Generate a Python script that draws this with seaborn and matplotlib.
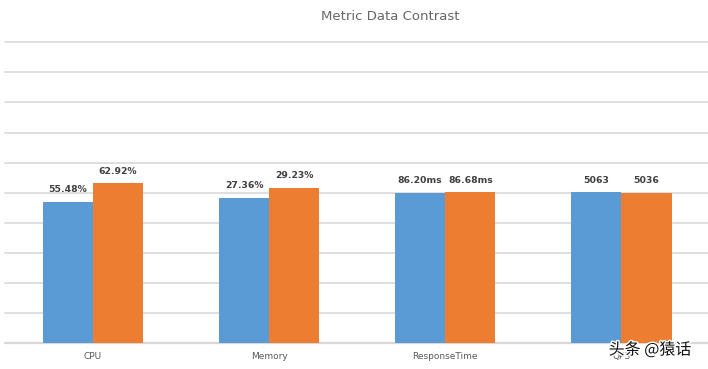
import matplotlib
matplotlib.use('Agg')
import matplotlib.pyplot as plt
import matplotlib.patheffects as pe
import pandas as pd
import seaborn as sns

metrics = ['CPU', 'Memory', 'ResponseTime', 'QPS']
before = [55.48, 27.36, 86.20, 5063]
after = [62.92, 29.23, 86.68, 5036]
before_labels = ['55.48%', '27.36%', '86.20ms', '5063']
after_labels = ['62.92%', '29.23%', '86.68ms', '5036']

blue = '#5B9BD5'
orange = '#ED7D31'

# each pair is drawn relative to its own mean, so different units share one axis
rows = []
for m, b, a in zip(metrics, before, after):
    mean = (b + a) / 2
    rows.append({'metric': m, 'run': 'before', 'height': b / mean})
    rows.append({'metric': m, 'run': 'after', 'height': a / mean})
df = pd.DataFrame(rows)

sns.set_style('white')
plt.rcParams['font.family'] = ['DejaVu Sans']

fig = plt.figure(figsize=(7.08, 3.69), dpi=100)
ax = fig.add_axes([0.007, 1 - 343 / 369, 0.995, (343 - 42.3) / 369])

sns.barplot(data=df, x='metric', y='height', hue='run', palette=[blue, orange],
            width=0.57, gap=0, saturation=1, linewidth=0, legend=False, ax=ax,
            zorder=3)

ax.set_ylim(0, 2.0)
ax.set_xlim(-0.5, 3.5)
ax.set_yticks([i * 0.2 for i in range(11)])
ax.yaxis.grid(True, color='#d9d9d9', linewidth=1.2)
for gl in ax.get_ygridlines():
    gl.set_clip_on(False)
ax.set_axisbelow(True)
ax.tick_params(axis='y', left=False, labelleft=False)
ax.tick_params(axis='x', bottom=False, labelsize=6.5, labelcolor='#595959', pad=3)
ax.set_xlabel('')
ax.set_ylabel('')
for s in ['top', 'right', 'left']:
    ax.spines[s].set_visible(False)
ax.spines['bottom'].set_color('#d9d9d9')
ax.spines['bottom'].set_linewidth(1.6)

ax.bar_label(ax.containers[0], labels=before_labels, padding=5.5, fontsize=6.7,
             fontweight='bold', color='#404040')
ax.bar_label(ax.containers[1], labels=after_labels, padding=5.5, fontsize=6.7,
             fontweight='bold', color='#404040')

fig.text(390 / 708, 1 - 16 / 369, 'Metric Data Contrast', ha='center', va='center',
         fontsize=9.5, color='#666666')

fig.text(650 / 708, 1 - 350 / 369, '头条 @猿话', ha='center', va='center',
         fontsize=11.5, color='#111111', family=['Noto Sans CJK SC', 'DejaVu Sans'],
         path_effects=[pe.withStroke(linewidth=2, foreground='white')])

fig.savefig('out.png', dpi=100)
